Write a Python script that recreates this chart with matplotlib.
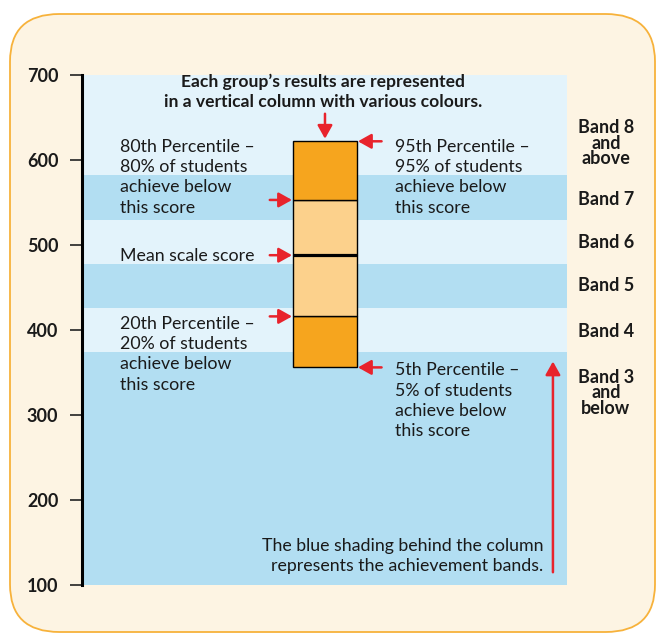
import matplotlib.pyplot as plt
from matplotlib.patches import FancyBboxPatch

# achievement bands (scale score cut points) and labels
band_edges = [100, 374, 426, 478, 530, 582, 700]
band_names = ['Band 3\nand\nbelow', 'Band 4', 'Band 5', 'Band 6', 'Band 7', 'Band 8\nand\nabove']
band_label_y = [326, 398, 452, 503, 554, 620]

# one group's percentiles
p5, p20, mean, p80, p95 = 356, 416, 488, 553, 622

title = "Each group\u2019s results are represented\nin a vertical column with various colours."
note = "The blue shading behind the column\nrepresents the achievement bands."

red = '#E8232C'
dark_blue = '#B2DEF2'
light_blue = '#E3F3FB'
dark_orange = '#F6A51E'
light_orange = '#FCD18C'
ink = '#1a1a1a'

plt.rcParams['font.family'] = ['Lato', 'DejaVu Sans']

fig = plt.figure(figsize=(6.57, 6.34), dpi=100)
W, H = 657, 634
bg = FancyBboxPatch((10 / W, 2 / H), 645 / W, 618 / H,
                    boxstyle='round,pad=0,rounding_size=0.075',
                    transform=fig.transFigure, facecolor='#FDF4E3',
                    edgecolor='#F7B23B', lw=1.3, zorder=-5)
fig.patches.append(bg)

ax = fig.add_axes([82 / W, 1 - 585 / H, 485 / W, 510 / H])
ax.set_xlim(0, 1)
ax.set_ylim(100, 700)
ax.patch.set_alpha(0)

# shaded bands
for i in range(len(band_edges) - 1):
    c = dark_blue if i % 2 == 0 else light_blue
    ax.axhspan(band_edges[i], band_edges[i + 1], color=c, lw=0, zorder=0)

# the column
cx, cw = 0.501, 0.132
segs = [(p5, p20, dark_orange), (p20, mean, light_orange),
        (mean, p80, light_orange), (p80, p95, dark_orange)]
for lo, hi, c in segs:
    ax.bar(cx, hi - lo, bottom=lo, width=cw, color=c, edgecolor='black', lw=1, zorder=2)
ax.hlines(mean, cx - cw / 2, cx + cw / 2, color='black', lw=2.3, zorder=3)

left_x, right_x = cx - cw / 2, cx + cw / 2
ap = dict(arrowstyle='-|>,head_length=0.5,head_width=0.28', color=red, lw=1.8,
          mutation_scale=16, shrinkA=0, shrinkB=0)

# arrows to the column
ax.annotate('', xy=(cx, p95 + 3), xytext=(0, 18), textcoords='offset points', arrowprops=ap)
for v in [p80, mean, p20]:
    ax.annotate('', xy=(left_x - 0.002, v), xytext=(-16, 0), textcoords='offset points', arrowprops=ap)
for v in [p95, p5]:
    ax.annotate('', xy=(right_x + 0.002, v), xytext=(17, 0), textcoords='offset points', arrowprops=ap)

# long arrow up
ax.annotate('', xy=(0.971, 363), xytext=(0.971, 115), arrowprops=ap)

fs = 12.8
ls = 1.33
ax.text(0.497, 680, title, ha='center', va='center', fontsize=12.6, fontweight='bold',
        color=ink, linespacing=1.3)
ax.text(0.078, 538, '80th Percentile \u2013\n80% of students\nachieve below\nthis score',
        va='baseline', fontsize=fs, color=ink, linespacing=ls)
ax.text(0.078, 481, 'Mean scale score', va='baseline', fontsize=fs, color=ink)
ax.text(0.078, 330, '20th Percentile \u2013\n20% of students\nachieve below\nthis score',
        va='baseline', fontsize=fs, color=ink, linespacing=ls)
ax.text(0.646, 538, '95th Percentile \u2013\n95% of students\nachieve below\nthis score',
        va='baseline', fontsize=fs, color=ink, linespacing=ls)
ax.text(0.646, 275, '5th Percentile \u2013\n5% of students\nachieve below\nthis score',
        va='baseline', fontsize=fs, color=ink, linespacing=ls)
ax.text(0.951, 134, note, ha='right', va='center', fontsize=fs, color=ink, linespacing=ls)

for name, y in zip(band_names, band_label_y):
    ax.text(1.08, y, name, ha='center', va='center', fontsize=13, fontweight='bold',
            color=ink, linespacing=0.92, clip_on=False)

# axis styling
for s in ['top', 'right', 'bottom']:
    ax.spines[s].set_visible(False)
ax.spines['left'].set_linewidth(2.2)
ax.spines['left'].set_color('black')
ax.set_xticks([])
ax.set_yticks(range(100, 701, 100))
ax.tick_params(axis='y', length=9, width=1.2, pad=8, color='#222222', labelsize=13)
for lab in ax.get_yticklabels():
    lab.set_fontweight('bold')
    lab.set_color(ink)

fig.savefig('out.png', dpi=100, facecolor='white')
